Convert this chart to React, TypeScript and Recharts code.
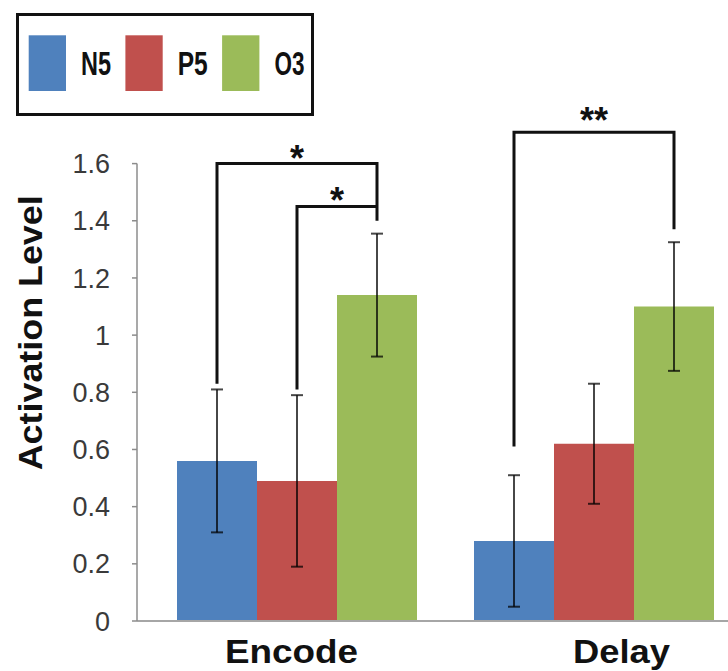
import React from 'react';
import { BarChart, Bar, XAxis, YAxis, ErrorBar, Legend, Rectangle, Label } from 'recharts';

// Mean activation per phase and condition, with error half-widths
const categories = ['Encode', 'Delay'];
const n5Values = [0.56, 0.28];
const n5Errors = [0.25, 0.23];
const p5Values = [0.49, 0.62];
const p5Errors = [0.3, 0.21];
const o3Values = [1.14, 1.1];
const o3Errors = [0.215, 0.225];
const yTicks = [0, 0.2, 0.4, 0.6, 0.8, 1, 1.2, 1.4, 1.6];

const seriesNames = ['N5', 'P5', 'O3'];
const seriesColors = ['#4F81BD', '#C0504D', '#9BBB59'];

// Significance brackets (values in activation units)
const bracketCategory = ['Encode', 'Encode', 'Delay'];
const bracketFrom = ['N5', 'P5', 'N5'];
const bracketTo = ['O3', 'O3', 'O3'];
const bracketTop = [1.6, 1.45, 1.71];
const bracketFromEnd = [0.83, 0.81, 0.61];
const bracketToEnd = [1.4, 1.45, 1.37];
const bracketMarks = ['*', '*', '**'];

const data = categories.map((category, i) => ({
  category,
  N5: n5Values[i],
  N5err: n5Errors[i],
  P5: p5Values[i],
  P5err: p5Errors[i],
  O3: o3Values[i],
  O3err: o3Errors[i],
}));

const FONT = '"Liberation Sans", Arial, Helvetica, sans-serif';

// Last bar of each group also carries the significance brackets, placed
// with the bar's own pixel geometry (bars share one width, no gap).
const O3Shape = (props: any) => {
  const { x, y, width, height, payload, fill } = props;
  const base = y + height;
  const unit = height / payload.O3;
  const toY = (v: number) => base - v * unit;
  const centerOf = (name: string) =>
    x + width / 2 + (seriesNames.indexOf(name) - (seriesNames.length - 1)) * width;
  const idx = bracketCategory
    .map((c, i) => (c === payload.category ? i : -1))
    .filter((i) => i >= 0);
  return (
    <g>
      <Rectangle x={x} y={y} width={width} height={height} fill={fill} />
      {idx.map((i) => {
        const x1 = centerOf(bracketFrom[i]);
        const x2 = centerOf(bracketTo[i]);
        const yt = toY(bracketTop[i]);
        const d = `M${x1},${toY(bracketFromEnd[i])} L${x1},${yt} L${x2},${yt} L${x2},${toY(bracketToEnd[i])}`;
        return (
          <g key={i}>
            <path d={d} fill="none" stroke="#111" strokeWidth={3} strokeLinejoin="miter" />
            <text
              x={(x1 + x2) / 2}
              y={yt + (bracketMarks[i].length > 1 ? 1 : 7)}
              textAnchor="middle"
              fontFamily={FONT}
              fontWeight="bold"
              fontSize={36}
              fill="#111"
            >
              {bracketMarks[i]}
            </text>
          </g>
        );
      })}
    </g>
  );
};

const CategoryTick = (props: any) => {
  const { x, y, payload } = props;
  const shift: Record<string, number> = { Encode: -5, Delay: 28 };
  const len: Record<string, number> = { Encode: 133, Delay: 97 };
  return (
    <text
      x={x + (shift[payload.value] ?? 0)}
      y={y + 41.6}
      textAnchor="middle"
      fontFamily={FONT}
      fontWeight="bold"
      fontSize={33.5}
      fill="#111"
      textLength={len[payload.value]}
      lengthAdjust="spacingAndGlyphs"
    >
      {payload.value}
    </text>
  );
};

const YTitle = (props: any) => {
  const { viewBox } = props;
  const bx = viewBox.x + 42;
  const cy = viewBox.y + viewBox.height / 2 - 59.5;
  return (
    <text
      x={bx}
      y={cy}
      transform={`rotate(-90 ${bx} ${cy})`}
      textAnchor="middle"
      fontFamily={FONT}
      fontWeight="bold"
      fontSize={33.5}
      fill="#111"
      textLength={275}
      lengthAdjust="spacingAndGlyphs"
    >
      Activation Level
    </text>
  );
};

const LegendBox = (props: any) => {
  const items = [...(props.payload || [])].sort(
    (a: any, b: any) => seriesNames.indexOf(a.value) - seriesNames.indexOf(b.value)
  );
  return (
    <svg width={360} height={103} style={{ display: 'block', overflow: 'visible' }}>
      <rect x={1.5} y={1.5} width={295} height={100} fill="#fff" stroke="#111" strokeWidth={3} />
      {items.map((p: any, i: number) => (
        <g key={p.value}>
          <rect x={12.7 + i * 96.7} y={22.3} width={37.3} height={55.7} fill={p.color} />
          <text
            x={65 + i * 96.7}
            y={62.3}
            fontFamily={FONT}
            fontWeight="bold"
            fontSize={34}
            fill="#111"
            textLength={30}
            lengthAdjust="spacingAndGlyphs"
          >
            {p.value}
          </text>
        </g>
      ))}
    </svg>
  );
};

export default function App() {
  return (
    <div
      style={{
        position: 'absolute',
        left: 0,
        top: 0,
        width: 728,
        height: 671,
        overflow: 'hidden',
        background: '#fff',
      }}
    >
      <BarChart
        width={745}
        height={671}
        data={data}
        margin={{ top: 163.6, right: 3, bottom: 0, left: 0 }}
        barGap={0}
        barCategoryGap={0}
      >
        <XAxis
          dataKey="category"
          height={50}
          padding={{ left: 11, right: 0 }}
          tickLine={false}
          tickSize={0}
          tickMargin={0}
          axisLine={{ stroke: '#a6a6a6', strokeWidth: 2 }}
          tick={<CategoryTick />}
        />
        <YAxis
          width={137}
          domain={[0, 1.6]}
          ticks={yTicks}
          interval={0}
          tickSize={5}
          tickMargin={22}
          axisLine={{ stroke: '#8c8c8c', strokeWidth: 1.5 }}
          tickLine={{ stroke: '#8c8c8c', strokeWidth: 1.5 }}
          tick={{ fontSize: 27, fontFamily: FONT, fill: '#3a3a3a' }}
        >
          <Label content={<YTitle />} />
        </YAxis>
        <Legend
          layout="horizontal"
          align="center"
          verticalAlign="middle"
          wrapperStyle={{ position: 'absolute', left: 16, top: 12.7, width: 360, height: 103 }}
          content={<LegendBox />}
        />
        <Bar dataKey="N5" name={seriesNames[0]} fill={seriesColors[0]} barSize={80} isAnimationActive={false}>
          <ErrorBar dataKey="N5err" width={6} stroke="#000" strokeOpacity={0.72} strokeWidth={2} />
        </Bar>
        <Bar dataKey="P5" name={seriesNames[1]} fill={seriesColors[1]} barSize={80} isAnimationActive={false}>
          <ErrorBar dataKey="P5err" width={6} stroke="#000" strokeOpacity={0.72} strokeWidth={2} />
        </Bar>
        <Bar
          dataKey="O3"
          name={seriesNames[2]}
          fill={seriesColors[2]}
          barSize={80}
          isAnimationActive={false}
          shape={<O3Shape />}
        >
          <ErrorBar dataKey="O3err" width={6} stroke="#000" strokeOpacity={0.72} strokeWidth={2} />
        </Bar>
      </BarChart>
    </div>
  );
}
